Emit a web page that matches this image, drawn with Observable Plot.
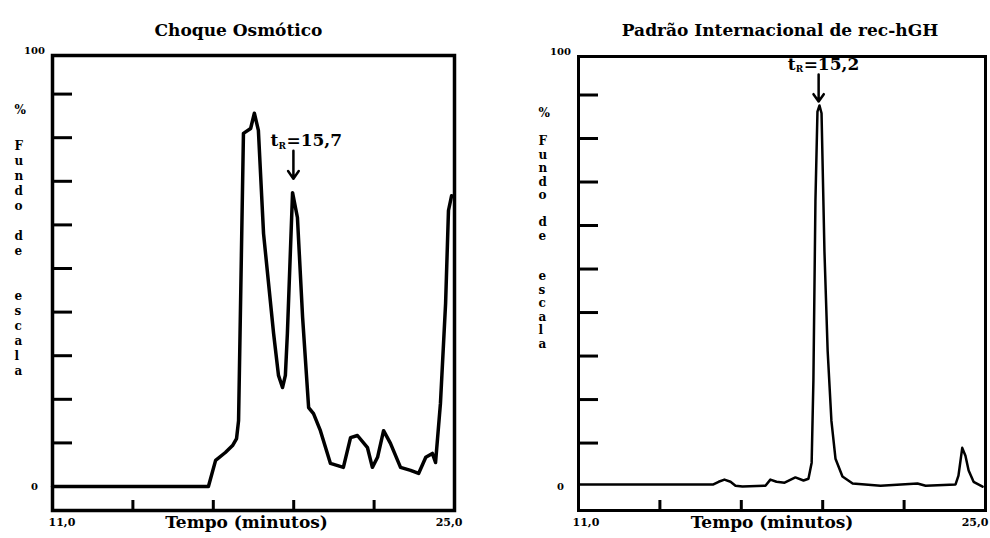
<!DOCTYPE html>
<html><head><meta charset="utf-8">
<script src="https://cdn.jsdelivr.net/npm/d3@7"></script>
<script src="https://cdn.jsdelivr.net/npm/@observablehq/plot@0.6"></script>
<style>
body{margin:0;background:#fff;}
#wrap{display:flex;width:990px;height:538px;overflow:hidden;}
#wrap svg{overflow:visible;background:#fff;}
</style></head><body><div id="wrap"></div>
<script>
// ---- data ----
const leftTime   = [11, 16.43, 16.68, 17.02, 17.27, 17.41, 17.48, 17.65, 17.90, 18.03, 18.17, 18.35, 18.70, 18.87, 19.01, 19.11, 19.18, 19.36, 19.53, 19.71, 19.92, 20.09, 20.33, 20.68, 21.13, 21.38, 21.62, 21.97, 22.14, 22.32, 22.53, 22.77, 23.12, 23.47, 23.75, 24.0, 24.23, 24.34, 24.51, 24.69, 24.79, 24.90];
const leftSignal = [0, 0, 6.0, 7.8, 9.4, 11.0, 15.1, 81.0, 82.1, 85.6, 81.7, 58.0, 35.1, 25.5, 22.7, 25.5, 35.1, 67.4, 61.7, 38.8, 18.1, 16.7, 12.8, 5.3, 4.4, 11.2, 11.7, 8.9, 4.4, 6.7, 12.8, 9.9, 4.4, 3.7, 3.0, 6.7, 7.6, 5.5, 19.0, 42.0, 63.3, 66.7];

const rightTime   = [11, 15.64, 15.82, 16.02, 16.23, 16.40, 16.64, 17.43, 17.60, 17.81, 18.09, 18.46, 18.74, 18.91, 19.02, 19.08, 19.15, 19.22, 19.29, 19.36, 19.46, 19.57, 19.70, 19.84, 20.08, 20.43, 21.39, 22.66, 22.94, 23.97, 24.07, 24.20, 24.31, 24.42, 24.59, 24.90];
const rightSignal = [0.5, 0.5, 1.1, 1.6, 1.1, 0.2, 0, 0.2, 1.6, 1.1, 0.9, 2.1, 1.4, 1.8, 5.5, 24.3, 65.6, 86.2, 87.6, 85.8, 54.1, 31.2, 15.1, 6.4, 2.3, 0.7, 0.2, 0.7, 0.2, 0.5, 2.5, 8.9, 7.1, 3.7, 1.1, 0];

const panelTitles = ["Choque Osmótico", "Padrão Internacional de rec-hGH"];
const xAxisTitle = "Tempo (minutos)";
const yAxisUnit = "%";
const yAxisLetters = ["F", "u", "n", "d", "o", "", "d", "e", "", "", "e", "s", "c", "a", "l", "a"];
const xTicks = [13.8, 16.6, 19.4, 22.2];
const yTicks = [10, 20, 30, 40, 50, 60, 70, 80, 90];
const xEndValues = [11, 25];
const xEndLabels = ["11,0", "25,0"];
const yEndValues = [0, 100];
const yEndLabels = ["0", "100"];
const peakTimes = [19.39, 19.26];
const peakLabels = ["15,7", "15,2"];
const arrowTop = [77, 94.7];
const arrowTip = [70.6, 88.5];

const FONT = "DejaVu Serif";

function panel(i, cfg) {
  const time = i === 0 ? leftTime : rightTime;
  const signal = i === 0 ? leftSignal : rightSignal;
  const data = time.map((t, k) => ({t, v: signal[k]}));
  const W = 495, H = 538;
  const frameW = W - cfg.ml - cfg.mr;
  const frameH = H - cfg.mt - cfg.mb;
  const ann = [{x: peakTimes[i], y1: arrowTop[i], y2: arrowTip[i], label: peakLabels[i]}];
  return Plot.plot({
    width: W, height: H,
    marginLeft: cfg.ml, marginRight: cfg.mr, marginTop: cfg.mt, marginBottom: cfg.mb,
    x: {domain: [11, 25], axis: null},
    y: {domain: [-5.5, 98.85], axis: null},
    style: {fontFamily: FONT, background: "#fff"},
    marks: [
      Plot.frame({strokeWidth: cfg.frameW}),
      Plot.tickY(yTicks, {y: d => d, insetRight: frameW - 20, strokeWidth: 3}),
      Plot.tickX(xTicks, {x: d => d, insetTop: frameH - 10, strokeWidth: 3}),
      Plot.line(data, {x: "t", y: "v", strokeWidth: cfg.lineW, strokeLinejoin: "round", strokeLinecap: "round"}),
      Plot.arrow(ann, {x1: "x", x2: "x", y1: "y1", y2: "y2", strokeWidth: 2.5, headLength: 11, headAngle: 70}),
      Plot.text(ann, {x: "x", y: "y1", text: () => "t", textAnchor: "end", dx: cfg.tdx, dy: -10, fontSize: 17, fontWeight: "bold"}),
      Plot.text(ann, {x: "x", y: "y1", text: () => "R", textAnchor: "start", dx: cfg.tdx, dy: -5, fontSize: 9, fontWeight: "bold"}),
      Plot.text(ann, {x: "x", y: "y1", text: d => "=" + d.label, textAnchor: "start", dx: cfg.tdx + 8, dy: -10, fontSize: 17, fontWeight: "bold"}),
      Plot.text([panelTitles[i]], {frameAnchor: "top", text: d => d, dx: cfg.titleDx, dy: 23 - cfg.mt, fontSize: 17, fontWeight: "bold"}),
      Plot.text([xAxisTitle], {frameAnchor: "bottom", text: d => d, dx: cfg.xtDx, dy: 17, fontSize: 17, fontWeight: "bold"}),
      Plot.text([xEndValues[0]], {x: d => d, frameAnchor: "bottom", text: () => xEndLabels[0], textAnchor: "start", dx: cfg.startDx, dy: 15, fontSize: 11, fontWeight: "bold"}),
      Plot.text([xEndValues[1]], {x: d => d, frameAnchor: "bottom", text: () => xEndLabels[1], textAnchor: "end", dx: cfg.endDx, dy: 15, fontSize: 11, fontWeight: "bold"}),
      Plot.text(yEndValues, {x: 11, y: d => d, text: (d, k) => yEndLabels[k], dx: -18, fontSize: 10, fontWeight: "bold"}),
      Plot.text([yAxisUnit], {frameAnchor: "top-left", text: d => d, dx: cfg.lettersX - cfg.ml, dy: cfg.unitY - cfg.mt, fontSize: 12, fontWeight: "bold"}),
      Plot.text([yAxisLetters.join("\n")], {frameAnchor: "top-left", text: d => d, lineAnchor: "top", lineHeight: cfg.step / 12,
        dx: cfg.lettersX - cfg.ml, dy: cfg.firstLetterY - cfg.mt - 7, fontSize: 12, fontWeight: "bold"})
    ]
  });
}

const wrap = document.getElementById("wrap");
const cfgs = [
  {ml: 52, mr: 41, mt: 55, mb: 28, frameW: 3.5, lineW: 3.5, tdx: -15, titleDx: -15, xtDx: -7, startDx: -4, endDx: 8, lettersX: 14, unitY: 105, firstLetterY: 146, step: 15},
  {ml: 83, mr: 5, mt: 56, mb: 28, frameW: 3, lineW: 2.5, tdx: -23, titleDx: -2, xtDx: -10, startDx: -6, endDx: 3, lettersX: 538 - 495, unitY: 108, firstLetterY: 142, step: 13.5}
];
cfgs.forEach((cfg, i) => wrap.appendChild(panel(i, cfg)));
</script>
</body></html>
